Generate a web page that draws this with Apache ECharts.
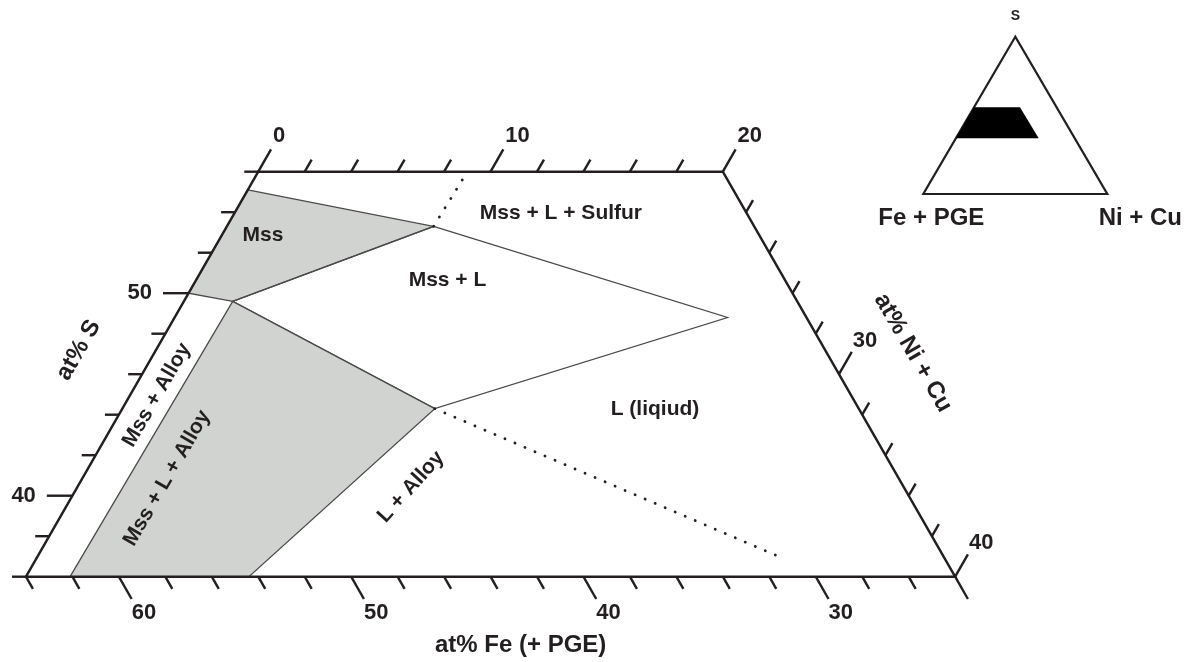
<!DOCTYPE html>
<html>
<head>
<meta charset="utf-8">
<title>Mss - L - Alloy phase relations</title>
<script src="https://cdn.jsdelivr.net/npm/echarts@6/dist/echarts.min.js"></script>
<style>
  html, body { margin: 0; padding: 0; background: #fff; }
  #chart { width: 1189px; height: 662px; }
</style>
</head>
<body>
<div id="chart"></div>
<script>
// compositions are [at% S, at% Ni+Cu], Fe (+PGE) is the rest to 100
const fieldOutline = [[56, 0], [56, 20], [36, 40], [36, 0]]
const mssField = [[55.1, 0], [53.3, 8.9], [49.6, 2.1], [50, 0]]
const mssLiqField = [[53.3, 8.9], [48.8, 23.8], [44.3, 13.45], [49.6, 2.1]]
const mssLiqAlloyField = [[49.6, 2.1], [44.3, 13.45], [36, 9.6], [36, 1.9]]
const sulfurBoundary = [[53.3, 8.9], [56, 9.0]]
const alloyBoundary = [[44.3, 13.45], [37.0, 31.9]]

// small inset: whole triangle + the enlarged field
const insetTriangle = [[100, 0], [0, 0], [0, 100]]
const insetField = [[55.1, 0], [55.1, 25], [35.4, 45], [35.4, 0]]

// axis ticks
const sTicks = [56, 54, 52, 50, 48, 46, 44, 42, 40, 38, 36]
const sLabels = [50, 40]
const niTopTicks = [0, 2, 4, 6, 8, 10, 12, 14, 16, 18, 20]
const niTopLabels = [0, 10, 20]
const niRightTicks = [22, 24, 26, 28, 30, 32, 34, 36, 38, 40]
const niRightLabels = [30, 40]
const feTicks = [64, 62, 60, 58, 56, 54, 52, 50, 48, 46, 44, 42, 40, 38, 36, 34, 32, 30, 28, 26, 24]
const feLabels = [60, 50, 40, 30]

const FONT = '"Liberation Sans", Arial, Helvetica, sans-serif'
const INK = '#231f20'
const GREY = '#d1d3d0'
const MAJOR = 1.1
const MINOR = 0.6

const topS = fieldOutline[0][0]
const bottomS = fieldOutline[2][0]
const rightFe = 100 - fieldOutline[1][0] - fieldOutline[1][1]

// [S, Ni] -> cartesian (x = Ni + S/2, y = S)
function xy (p) { return [p[1] + p[0] / 2, p[0]] }

function polygon (pts, style, axis) {
  axis = axis || 0
  return {
    type: 'custom',
    coordinateSystem: 'cartesian2d',
    xAxisIndex: axis,
    yAxisIndex: axis,
    silent: true,
    data: [xy(pts[0])],
    renderItem: function (params, api) {
      return {
        type: 'polygon',
        shape: { points: pts.map(function (p) { return api.coord(xy(p)) }) },
        style: style
      }
    }
  }
}

function polyline (pts, lineStyle) {
  return {
    type: 'line',
    data: pts.map(xy),
    symbol: 'none',
    silent: true,
    clip: false,
    lineStyle: lineStyle
  }
}

function textSeries (items, axis) {
  axis = axis || 0
  return {
    type: 'custom',
    coordinateSystem: 'cartesian2d',
    xAxisIndex: axis,
    yAxisIndex: axis,
    silent: true,
    data: items.map(function (t) { return xy(t.at) }),
    renderItem: function (params, api) {
      const t = items[params.dataIndex]
      const p = api.coord([api.value(0), api.value(1)])
      return {
        type: 'text',
        x: p[0] + (t.dx || 0),
        y: p[1] + (t.dy || 0),
        rotation: (t.rot || 0) * Math.PI / 180,
        style: {
          text: t.text,
          fill: INK,
          font: 'bold ' + t.size + 'px ' + FONT,
          align: t.align || 'center',
          verticalAlign: 'middle'
        }
      }
    }
  }
}

// build ticks and their labels
let tickSegs = []
let tickText = []
sTicks.forEach(function (s) {
  const major = sLabels.includes(s)
  const end = [s, -(major ? MAJOR : MINOR)]
  tickSegs.push([[s, 0], end])
  if (major) tickText.push({ text: String(s), at: end, size: 22, align: 'right', dx: -11 })
})
niTopTicks.forEach(function (n) {
  const major = niTopLabels.includes(n)
  const end = [topS + (major ? MAJOR : MINOR), n]
  tickSegs.push([[topS, n], end])
  if (major) tickText.push({ text: String(n), at: end, size: 22, align: 'left', dx: 2, dy: -13 })
})
niRightTicks.forEach(function (n) {
  const s = 100 - rightFe - n
  const major = niRightLabels.includes(n)
  const end = [s + (major ? MAJOR : MINOR), n]
  tickSegs.push([[s, n], end])
  if (major) tickText.push({ text: String(n), at: end, size: 22, align: 'left', dx: 1, dy: -11 })
})
feTicks.forEach(function (f) {
  const n = 100 - bottomS - f
  const major = feLabels.includes(f) || f === feTicks[feTicks.length - 1]
  const len = major ? MAJOR : MINOR
  const end = [bottomS - len, n + len]
  tickSegs.push([[bottomS, n], end])
  if (feLabels.includes(f)) tickText.push({ text: String(f), at: end, size: 22, align: 'left', dx: 0, dy: 14 })
})

const fieldText = [
  { text: 'Mss', at: [52.85, 1.78], size: 21 },
  { text: 'Mss + L + Sulfur', at: [53.96, 14.05], size: 21 },
  { text: 'Mss + L', at: [50.65, 10.82], size: 21 },
  { text: 'L (liqiud)', at: [44.28, 22.94], size: 21 },
  { text: 'L + Alloy', at: [40.43, 14.36], size: 21, rot: 48 },
  { text: 'Mss + Alloy', at: [44.97, 1.15], size: 21, rot: 60 },
  { text: 'Mss + L + Alloy', at: [40.87, 3.64], size: 21, rot: 60 },
  { text: 'at% S', at: [47.19, -3.33], size: 24, rot: 60 },
  { text: 'at% Ni + Cu', at: [47.05, 32.66], size: 24, rot: -60 },
  { text: 'at% Fe (+ PGE)', at: [32.63, 22.98], size: 24 }
]

const insetText = [
  { text: 'S', at: [100, 0], size: 14, dy: -21 },
  { text: 'Fe + PGE', at: [0, 0], size: 24, dx: 8, dy: 24 },
  { text: 'Ni + Cu', at: [0, 100], size: 24, dx: 33, dy: 24 }
]

const chart = echarts.init(document.getElementById('chart'))

const regionLine = { stroke: '#4a4a4a', lineWidth: 1.3, lineJoin: 'miter' }
const dotted = { color: INK, width: 2.8, type: [0.1, 10.8], cap: 'round' }

const option = {
  animation: false,
  backgroundColor: '#fff',
  grid: [
    { left: 0, right: 0, top: 0, bottom: 0 },
    { left: 923.3, top: 36.7, width: 184, height: 157.3 }
  ],
  xAxis: [
    { gridIndex: 0, type: 'value', min: 16.883, max: 68.067, show: false },
    { gridIndex: 1, type: 'value', min: 0, max: 100, show: false }
  ],
  yAxis: [
    { gridIndex: 0, type: 'value', min: 31.788, max: 64.479, show: false },
    { gridIndex: 1, type: 'value', min: 0, max: 100, show: false }
  ],
  series: [
    polygon(mssField, Object.assign({ fill: GREY }, regionLine)),
    polygon(mssLiqField, Object.assign({ fill: 'none' }, regionLine)),
    polygon(mssLiqAlloyField, Object.assign({ fill: GREY }, regionLine)),
    polyline(sulfurBoundary, dotted),
    polyline(alloyBoundary, dotted),
    polygon(fieldOutline, { fill: 'none', stroke: INK, lineWidth: 2.5, lineJoin: 'miter' }),
    {
      type: 'custom',
      coordinateSystem: 'cartesian2d',
      silent: true,
      data: tickSegs.map(function (seg) { return xy(seg[0]).concat(xy(seg[1])) }),
      renderItem: function (params, api) {
        const a = api.coord([api.value(0), api.value(1)])
        const b = api.coord([api.value(2), api.value(3)])
        return {
          type: 'line',
          shape: { x1: a[0], y1: a[1], x2: b[0], y2: b[1] },
          style: { stroke: INK, lineWidth: 2.4 }
        }
      }
    },
    textSeries(tickText),
    textSeries(fieldText),
    polygon(insetTriangle, { fill: 'none', stroke: INK, lineWidth: 2.2, lineJoin: 'miter' }, 1),
    polygon(insetField, { fill: '#000' }, 1),
    textSeries(insetText, 1)
  ]
}

chart.setOption(option)
</script>
</body>
</html>
